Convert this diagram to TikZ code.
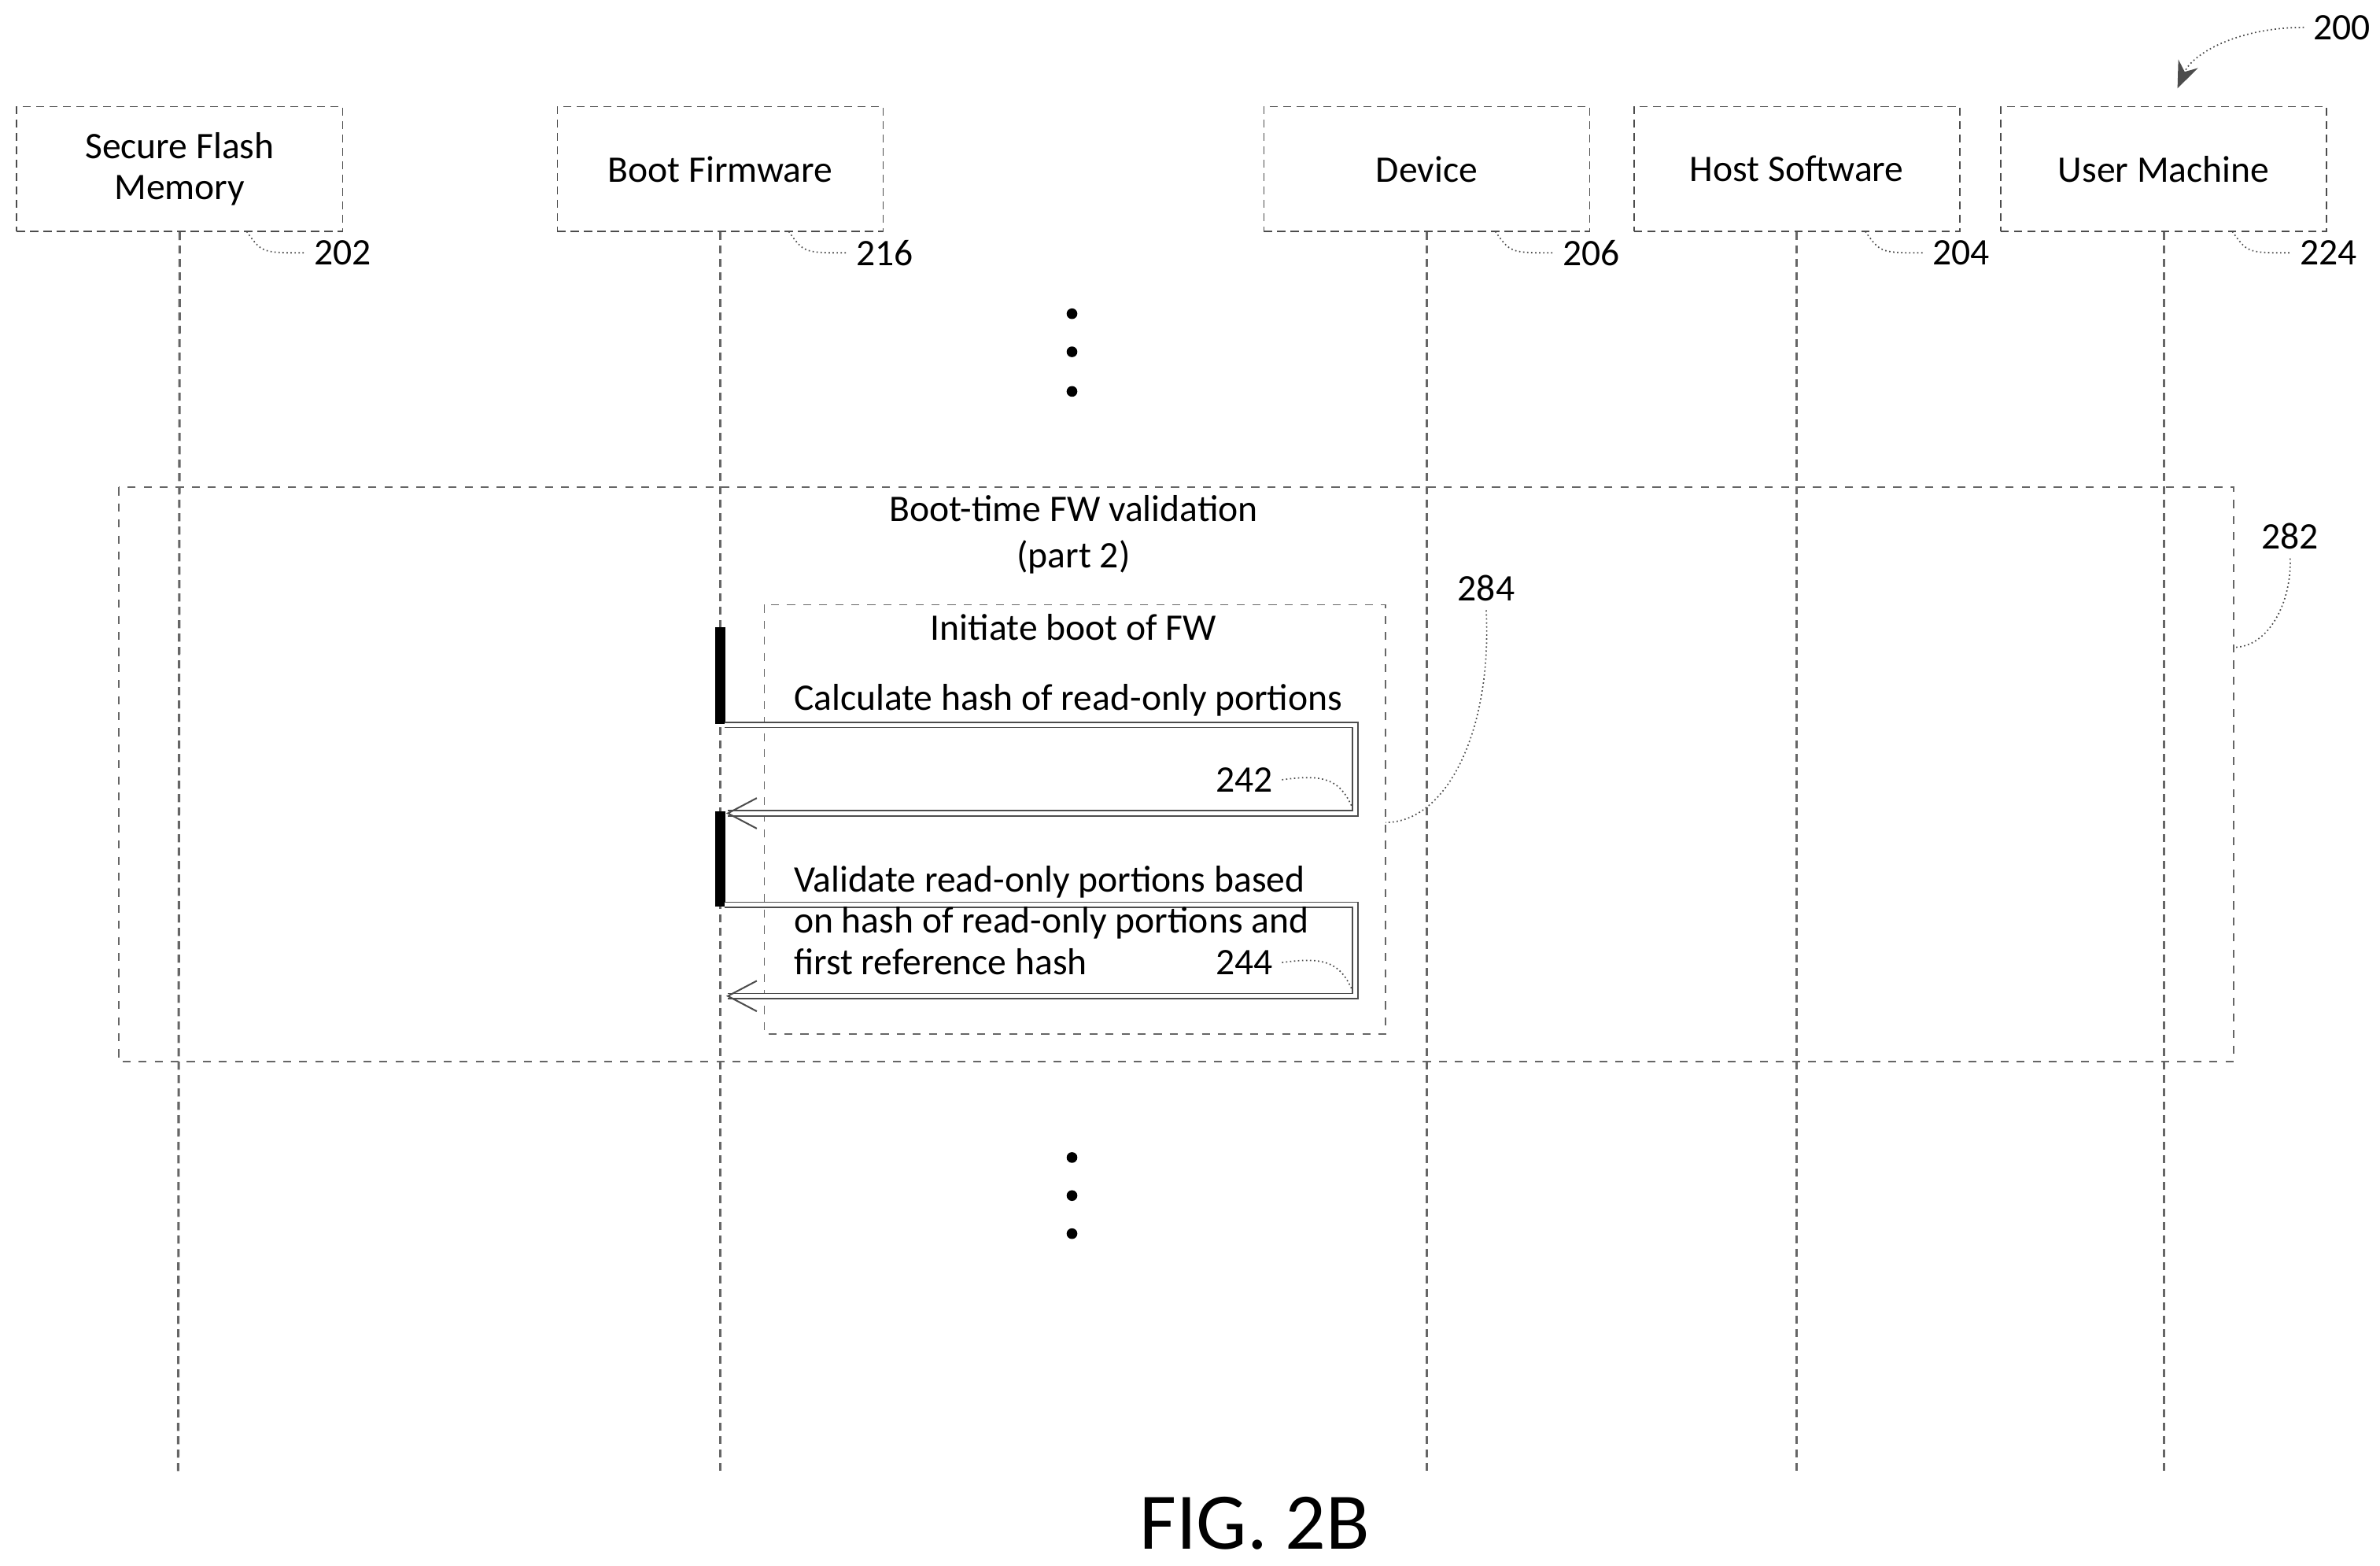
\documentclass[tikz,border=0pt]{standalone}
\usepackage{fontspec}
\setmainfont{Carlito}
\usetikzlibrary{arrows.meta}
\begin{document}
\begin{tikzpicture}[x=0.02cm,y=-0.02cm,
  font=\fontsize{14}{15.5}\selectfont,
  actor/.style={draw=black!70,densely dashed,line width=0.5pt,minimum width=4.28cm,minimum height=1.64cm,align=center,inner sep=0pt},
  life/.style={draw=black!60,densely dashed,line width=0.9pt},
  frame/.style={draw=black!60,dashed,line width=0.5pt},
  lead/.style={draw=black!70,line width=0.5pt,densely dotted},
  msg/.style={draw=black!70,double=white,double distance=1.4pt,line width=0.5pt},
  act/.style={fill=black,draw=black},
  dot/.style={circle,fill=black,inner sep=0pt,minimum size=4pt}]
\useasboundingbox (0,0) rectangle (1563,1028);
% actors
\node[actor] (sf) at (118,111) {Secure Flash\\Memory};
\node[actor] (bf) at (473,111) {Boot Firmware};
\node[actor] (dv) at (937,111) {Device};
\node[actor] (hs) at (1180,111) {Host Software};
\node[actor] (um) at (1421,111) {User Machine};
\foreach \n/\x in {sf/117,bf/473,dv/937,hs/1180,um/1421}{
  \coordinate (\n e) at (\x,968);
  \draw[life] (\n.south) -- (\n e);}
% reference labels
\foreach \n/\x/\t in {sf/117/202,bf/473/216,dv/937/206,hs/1180/204,um/1421/224}{
  \node (l\t) at (\x+108,166) {\t};
  \draw[lead] (\x+45,152) .. controls (\x+55,166) .. (l\t.west);}
\node (l200) at (1538,18) {200};
\coordinate (a200) at (1430,58);
\draw[lead,-{Stealth[length=10pt,width=8pt]}] (l200.west) .. controls (1470,18) and (1440,35) .. (a200);
% dots
\foreach \y [count=\i] in {206,231,257}{\node[dot] (d\i) at (704,\y) {};}
\foreach \y [count=\i] in {760,785,810}{\node[dot] (e\i) at (704,\y) {};}
% frame 282
\draw[frame] (78,320) rectangle (1467,697);
\node (t1) at (705,334) {Boot-time FW validation};
\node (t2) at (705,366) {(part 2)};
\node (l282) at (1504,352) {282};
\coordinate (c282) at (1467,425);
\draw[lead] (l282.south) .. controls (1505,395) and (1490,425) .. (c282);
% frame 284
\draw[frame] (502,397) rectangle (910,679);
\node (t3) at (705,412) {Initiate boot of FW};
\node (l284) at (976,386) {284};
\coordinate (c284) at (910,540);
\draw[lead] (l284.south) .. controls (980,480) and (950,540) .. (c284);
% activation bars
\draw[act] (470,412) rectangle (476,475);
\draw[act] (470,533) rectangle (476,595);
% message 242
\coordinate (m1a) at (476,476); \coordinate (m1b) at (890,476);
\coordinate (m1c) at (890,534); \coordinate (m1d) at (478,534);
\draw[msg] (m1a) -- (m1b) -- (m1c) -- (m1d);
\draw[black!70,line width=0.6pt] (497,524) -- (m1d) -- (497,544);
\node[anchor=west,inner sep=0pt] (t4) at (521,460) {Calculate hash of read-only portions};
\node (l242) at (817,512) {242};
\draw[lead] (l242.east) .. controls (870,508) and (880,512) .. (888,530);
% message 244
\coordinate (m2a) at (476,594); \coordinate (m2b) at (890,594);
\coordinate (m2c) at (890,654); \coordinate (m2d) at (478,654);
\draw[msg] (m2a) -- (m2b) -- (m2c) -- (m2d);
\draw[black!70,line width=0.6pt] (497,644) -- (m2d) -- (497,664);
\node[anchor=north west,align=left,inner sep=0pt] (t5) at (521,568) {Validate read-only portions based\\on hash of read-only portions and\\first reference hash};
\node (l244) at (817,632) {244};
\draw[lead] (l244.east) .. controls (870,628) and (880,632) .. (888,650);
% caption
\node[font=\fontsize{30}{34}\selectfont] (fig) at (824,1000) {FIG. 2B};
\end{tikzpicture}
\end{document}
